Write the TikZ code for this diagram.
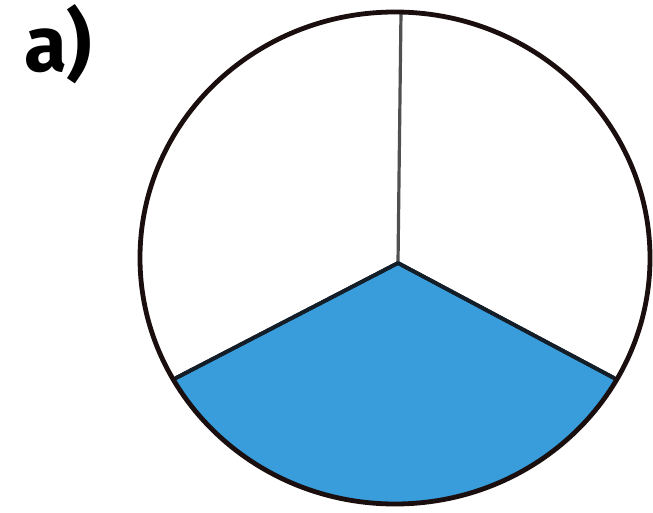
\documentclass[tikz,border=0pt]{standalone}
\usepackage{fontspec}
\usetikzlibrary{calc}
\setmainfont{Fira Sans}
\definecolor{fillblue}{RGB}{56,157,218}
\definecolor{rimcol}{RGB}{26,14,14}
\definecolor{spokegray}{RGB}{80,80,80}
\definecolor{edgecol}{RGB}{20,30,40}
\begin{document}
\begin{tikzpicture}[x=1pt,y=-1pt,
  rim/.style={draw=rimcol,line width=4.8pt},
  spoke/.style={draw=spokegray,line width=3.2pt},
  edgeline/.style={draw=edgecol,line width=3.8pt,line join=round}]
\useasboundingbox (0,0) rectangle (653,513);
\coordinate (o) at (395,258);
\coordinate (c) at (398,263);
\coordinate (top) at (401,12);
\coordinate (l) at (176,378);
\coordinate (r) at (614,378);
\begin{scope}
  \clip (o) ellipse [x radius=255, y radius=246];
  \fill[fillblue] (c) -- ($(c)!1.3!(l)$) -- (398,560) -- ($(c)!1.3!(r)$) -- cycle;
  \draw[edgeline] ($(c)!1.1!(l)$) -- (c) -- ($(c)!1.1!(r)$);
\end{scope}
\draw[spoke] (c) -- (top);
\draw[edgeline] (l) -- (c) -- (r);
\draw[rim] (o) ellipse [x radius=255, y radius=246];
\node[font=\fontsize{78}{80}\selectfont\bfseries, anchor=base west, inner sep=0pt] (lab) at (24,72) {a)};
\end{tikzpicture}
\end{document}
